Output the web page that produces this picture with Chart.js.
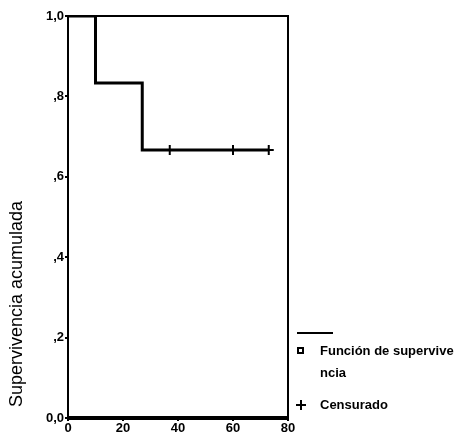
<!DOCTYPE html>
<html>
<head>
<meta charset="utf-8">
<script src="https://cdn.jsdelivr.net/npm/chart.js@4/dist/chart.umd.min.js"></script>
<style>
html,body{margin:0;padding:0;background:#fff;}
#wrap{position:relative;width:458px;height:435px;}
</style>
</head>
<body>
<div id="wrap"><canvas id="c" width="458" height="435"></canvas></div>
<script>
// Survival step function (time, cumulative survival)
const survTimes = [0, 10, 27, 73];
const survValues = [1.0, 0.8333, 0.6667, 0.6667];
// Censored observations
const censTimes = [37, 60, 73];
const censValues = [0.6667, 0.6667, 0.6667];
// Axis ticks
const xTicks = [0, 20, 40, 60, 80];
const yTickValues = [0, 0.2, 0.4, 0.6, 0.8, 1.0];
const yTickLabels = ['0,0', ',2', ',4', ',6', ',8', '1,0'];
const yTitle = 'Supervivencia acumulada';
const legendLabels = [['Función de supervive', 'ncia'], ['Censurado']];

const FONT = '"Liberation Sans", Arial, sans-serif';

const extras = {
  id: 'extras',
  afterDraw(chart) {
    const ctx = chart.ctx;
    const a = chart.chartArea;
    ctx.save();
    ctx.strokeStyle = '#000';
    ctx.lineWidth = 2;
    ctx.strokeRect(a.left, a.top, a.right - a.left, a.bottom - a.top);
    ctx.lineWidth = 4;
    ctx.beginPath();
    ctx.moveTo(a.left - 1, a.bottom);
    ctx.lineTo(a.right + 1, a.bottom);
    ctx.stroke();
    // y title
    ctx.fillStyle = '#000';
    ctx.font = '18px ' + FONT;
    ctx.translate(17, 304);
    ctx.rotate(-Math.PI / 2);
    ctx.textAlign = 'center';
    ctx.textBaseline = 'middle';
    ctx.fillText(yTitle, 0, 0);
    ctx.restore();
    // legend
    ctx.save();
    ctx.strokeStyle = '#000';
    ctx.fillStyle = '#000';
    ctx.lineWidth = 2;
    ctx.beginPath();
    ctx.moveTo(297, 333);
    ctx.lineTo(333, 333);
    ctx.stroke();
    ctx.strokeRect(298, 348, 5, 5);
    ctx.font = 'bold 13px ' + FONT;
    ctx.textBaseline = 'middle';
    ctx.textAlign = 'left';
    ctx.fillText(legendLabels[0][0], 320, 351);
    ctx.fillText(legendLabels[0][1], 320, 373);
    ctx.beginPath();
    ctx.moveTo(296, 405); ctx.lineTo(306, 405);
    ctx.moveTo(301, 400); ctx.lineTo(301, 410);
    ctx.stroke();
    ctx.fillText(legendLabels[1][0], 320, 405);
    ctx.restore();
  }
};

new Chart(document.getElementById('c'), {
  type: 'scatter',
  data: {
    datasets: [
      {
        label: 'Función de supervivencia',
        data: survTimes.map((t, i) => ({x: t, y: survValues[i]})),
        showLine: true,
        stepped: 'before',
        borderColor: '#000',
        borderWidth: 3,
        pointRadius: 0,
        fill: false
      },
      {
        label: 'Censurado',
        data: censTimes.map((t, i) => ({x: t, y: censValues[i]})),
        showLine: false,
        pointStyle: 'cross',
        pointRadius: 5,
        borderColor: '#000',
        borderWidth: 2,
        backgroundColor: '#000'
      }
    ]
  },
  options: {
    responsive: false,
    animation: false,
    layout: {padding: {left: 0, top: 16, right: 170, bottom: 0}},
    plugins: {legend: {display: false}, tooltip: {enabled: false}},
    scales: {
      x: {
        type: 'linear',
        min: 0, max: 80,
        afterBuildTicks: s => { s.ticks = xTicks.map(v => ({value: v})); },
        afterFit: s => { s.height = 17; },
        grid: {display: true, drawOnChartArea: false, color: '#000', tickLength: 3, lineWidth: 2},
        border: {display: false},
        ticks: {color: '#000', padding: 0, font: {family: FONT, size: 13, weight: 'bold'}, maxRotation: 0, autoSkip: false}
      },
      y: {
        type: 'linear',
        min: 0, max: 1,
        afterBuildTicks: s => { s.ticks = yTickValues.map(v => ({value: v})); },
        afterFit: s => { s.width = 68; },
        grid: {display: true, drawOnChartArea: false, color: '#000', tickLength: 3, lineWidth: 2},
        border: {display: false},
        ticks: {
          color: '#000', padding: 1,
          font: {family: FONT, size: 13, weight: 'bold'},
          callback: (v) => { const i = yTickValues.findIndex(t => Math.abs(t - v) < 1e-6); return i >= 0 ? yTickLabels[i] : ''; }
        }
      }
    }
  },
  plugins: [extras]
});
</script>
</body>
</html>
